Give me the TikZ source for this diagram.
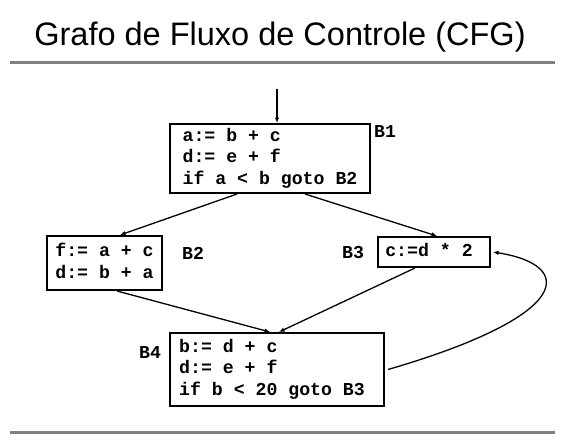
\documentclass[tikz,border=0pt]{standalone}
\usepackage{fontspec}
\setmainfont{Liberation Sans}
\newfontfamily\codefont{Liberation Mono}
\usetikzlibrary{arrows.meta,calc}
\newcommand\codelines[1]{\begin{tabular}{@{}l@{}}#1\end{tabular}}
\tikzset{
  blk/.style={draw, line width=2pt, inner sep=0pt,
    font=\codefont\bfseries\fontsize{18.2}{21.5}\selectfont},
  lbl/.style={font=\codefont\bfseries\fontsize{18.2}{21}\selectfont, inner sep=0pt},
  edge/.style={line width=1.3pt, -{Latex[length=5.5pt,width=4.5pt]}},
  rule/.style={line width=3pt, draw=black!50}
}
\begin{document}
\begin{tikzpicture}[x=1pt,y=-1pt]
\useasboundingbox (0,0) rectangle (564,440);
\node[font=\fontsize{32.5}{36}\selectfont, inner sep=0pt] (title) at (280,37) {Grafo de Fluxo de Controle (CFG)};
\coordinate (rtl) at (10,62); \coordinate (rtr) at (555,62);
\coordinate (rbl) at (10,432); \coordinate (rbr) at (555,432);
\draw[rule] (rtl) -- (rtr);
\draw[rule] (rbl) -- (rbr);

\node[blk, minimum width=200pt, minimum height=69pt] (b1) at (270,158.5)
  {\codelines{a:= b + c\\d:= e + f\\if a < b goto B2}};
\node[blk, minimum width=115pt, minimum height=54pt] (b2) at (104.5,263)
  {\codelines{f:= a + c\\d:= b + a}};
\node[blk, minimum width=112pt, minimum height=30pt] (b3) at (434,252)
  {\codelines{c:=d * 2\hspace{10pt}\mbox{}}};
\node[blk, minimum width=214pt, minimum height=73pt] (b4) at (277,369.5)
  {\codelines{b:= d + c\\d:= e + f\\if b < 20 goto B3\hspace{10pt}\mbox{}}};

\node[lbl] (l1) at (385,131) {B1};
\node[lbl] (l2) at (193,253) {B2};
\node[lbl] (l3) at (353,253) {B3};
\node[lbl] (l4) at (150,352) {B4};

\coordinate (entry) at (277,89);
\draw[edge] (entry) -- ($(b1.north)+(7,0)$);
\draw[edge] ($(b1.south)+(-33,0)$) -- ($(b2.north)+(15.5,0)$);
\draw[edge] ($(b1.south)+(35,0)$) -- ($(b3.north)+(3,0)$);
\draw[edge] ($(b2.south)+(12.5,0)$) -- ($(b4.north)+(-7,0)$);
\draw[edge] ($(b3.south)+(-19,0)$) -- ($(b4.north)+(2,0)$);
\draw[edge] ($(b4.east)+(3,0)$) .. controls (575,315) and (575,265) .. ($(b3.east)+(2,0)$);
\end{tikzpicture}
\end{document}
